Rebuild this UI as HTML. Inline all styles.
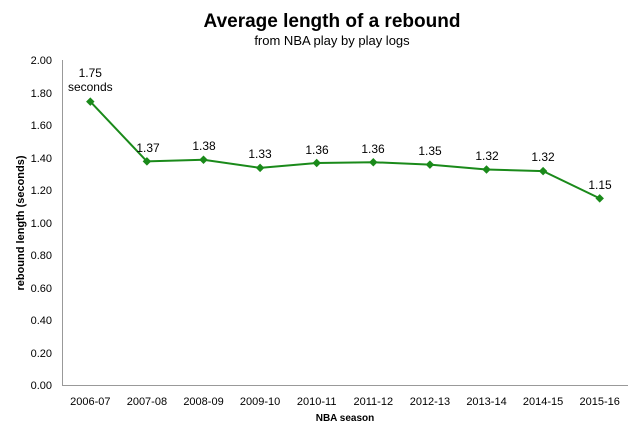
<!DOCTYPE html>
<html><head><meta charset="utf-8"><style>
body{margin:0;background:#fff;}
text{font-family:"Liberation Sans","DejaVu Sans",sans-serif;fill:#000;}
</style></head><body>
<svg width="640" height="435" xmlns="http://www.w3.org/2000/svg">
<text x="332" y="27" text-anchor="middle" font-size="19" font-weight="bold">Average length of a rebound</text>
<text x="332" y="45" text-anchor="middle" font-size="13">from NBA play by play logs</text>
<line x1="62.5" y1="60" x2="62.5" y2="386" stroke="#999"/>
<line x1="62" y1="385.5" x2="628" y2="385.5" stroke="#999"/>
<g font-size="11" text-anchor="end">
<text x="52" y="64">2.00</text><text x="52" y="97">1.80</text><text x="52" y="129">1.60</text><text x="52" y="162">1.40</text><text x="52" y="194">1.20</text><text x="52" y="227">1.00</text><text x="52" y="259">0.80</text><text x="52" y="292">0.60</text><text x="52" y="324">0.40</text><text x="52" y="357">0.20</text><text x="52" y="389">0.00</text>
</g>
<g font-size="11" text-anchor="middle">
<text x="90.3" y="405">2006-07</text><text x="146.9" y="405">2007-08</text><text x="203.5" y="405">2008-09</text><text x="260.1" y="405">2009-10</text><text x="316.7" y="405">2010-11</text><text x="373.3" y="405">2011-12</text><text x="429.9" y="405">2012-13</text><text x="486.5" y="405">2013-14</text><text x="543.1" y="405">2014-15</text><text x="599.7" y="405">2015-16</text>
</g>
<text x="345" y="421" text-anchor="middle" font-size="10" font-weight="bold">NBA season</text>
<text transform="translate(24,223) rotate(-90)" text-anchor="middle" font-size="11" font-weight="bold">rebound length (seconds)</text>
<polyline fill="none" stroke="#1a8a1a" stroke-width="2" points="90.3,101.6 146.9,161.4 203.5,159.8 260.1,167.9 316.7,163 373.3,162.2 429.9,164.6 486.5,169.5 543.1,171.1 599.7,198.4"/>
<g fill="#1a8a1a">
<rect x="-3" y="-3" width="6" height="6" transform="translate(90.3,101.6) rotate(45)"/>
<rect x="-3" y="-3" width="6" height="6" transform="translate(146.9,161.4) rotate(45)"/>
<rect x="-3" y="-3" width="6" height="6" transform="translate(203.5,159.8) rotate(45)"/>
<rect x="-3" y="-3" width="6" height="6" transform="translate(260.1,167.9) rotate(45)"/>
<rect x="-3" y="-3" width="6" height="6" transform="translate(316.7,163) rotate(45)"/>
<rect x="-3" y="-3" width="6" height="6" transform="translate(373.3,162.2) rotate(45)"/>
<rect x="-3" y="-3" width="6" height="6" transform="translate(429.9,164.6) rotate(45)"/>
<rect x="-3" y="-3" width="6" height="6" transform="translate(486.5,169.5) rotate(45)"/>
<rect x="-3" y="-3" width="6" height="6" transform="translate(543.1,171.1) rotate(45)"/>
<rect x="-3" y="-3" width="6" height="6" transform="translate(599.7,198.4) rotate(45)"/>
</g>
<g font-size="12" text-anchor="middle">
<text x="90.3" y="77">1.75</text><text x="90.3" y="91">seconds</text>
<text x="148" y="152">1.37</text><text x="204" y="150">1.38</text><text x="260" y="158">1.33</text><text x="317" y="154">1.36</text><text x="373" y="153">1.36</text><text x="430" y="155">1.35</text><text x="487" y="160">1.32</text><text x="543" y="161">1.32</text><text x="600" y="189">1.15</text>
</g>
</svg>
</body></html>
